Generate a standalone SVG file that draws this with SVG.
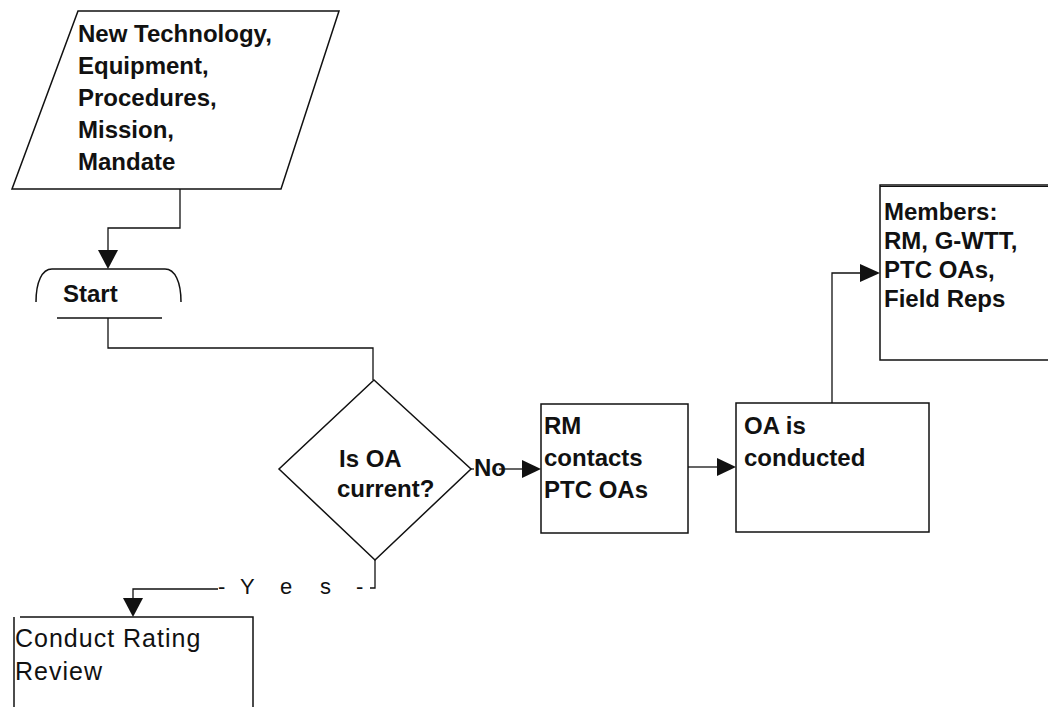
<svg xmlns="http://www.w3.org/2000/svg" width="1048" height="707" viewBox="0 0 1048 707">
  <style>
    .shape { fill: none; stroke: #111; stroke-width: 1.5; }
    .wire { fill: none; stroke: #111; stroke-width: 1.3; }
    .head { fill: #111; stroke: none; }
    .lbl { font-family: "Liberation Sans", Arial, sans-serif; font-size: 24px; font-weight: bold; fill: #111; }
    .plain { font-family: "Liberation Sans", Arial, sans-serif; font-size: 25px; letter-spacing: 1px; fill: #111; }
    .yes { font-family: "Liberation Sans", Arial, sans-serif; font-size: 22px; fill: #111; }
  </style>
  <rect x="0" y="0" width="1048" height="707" fill="#fff"/>

  <g id="connectors">
    <!-- input to start -->
    <polyline class="wire" points="180,189 180,228 108,228 108,252"/>
    <polygon class="head" points="98,250 118,250 108,269"/>
    <!-- start to decision -->
    <polyline class="wire" points="108,318 108,348 373,348 373,380"/>
    <!-- decision: no -->
    <line class="wire" x1="471" y1="469" x2="474" y2="469"/>
    <line class="wire" x1="499" y1="469" x2="524" y2="469"/>
    <polygon class="head" points="522,460 522,478 541,469"/>
    <!-- contacts to conducted -->
    <line class="wire" x1="688" y1="467" x2="719" y2="467"/>
    <polygon class="head" points="717,458 717,476 736,467"/>
    <!-- conducted to members -->
    <polyline class="wire" points="832,403 832,273 862,273"/>
    <polygon class="head" points="860,264 860,282 880,273"/>
    <!-- decision: yes -->
    <polyline class="wire" points="375,560 375,588 370,588"/>
    <polyline class="wire" points="218,589 133,589 133,600"/>
    <polygon class="head" points="123,598 143,598 133,617"/>
  </g>

  <g id="input">
    <polygon class="shape" points="78,11 339,11 281,189 12,189"/>
    <text class="lbl">
      <tspan x="78" y="42">New Technology,</tspan>
      <tspan x="78" y="74">Equipment,</tspan>
      <tspan x="78" y="106">Procedures,</tspan>
      <tspan x="78" y="138">Mission,</tspan>
      <tspan x="78" y="170">Mandate</tspan>
    </text>
  </g>

  <g id="start">
    <path class="shape" d="M36,302 C36,282 42,269 52,269 L165,269 C175,269 181,282 181,302"/>
    <line class="shape" x1="57" y1="318" x2="162" y2="318"/>
    <text class="lbl" x="63" y="302">Start</text>
  </g>

  <g id="decision">
    <polygon class="shape" points="374,380 471,469 375,560 279,469"/>
    <text class="lbl">
      <tspan x="339" y="467">Is OA</tspan>
      <tspan x="337" y="497">current?</tspan>
    </text>
    <text class="lbl" x="474" y="476" font-size="19">No</text>
  </g>

  <g id="contacts">
    <rect class="shape" x="541" y="404" width="147" height="129"/>
    <text class="lbl">
      <tspan x="544" y="434">RM</tspan>
      <tspan x="544" y="466">contacts</tspan>
      <tspan x="544" y="498">PTC OAs</tspan>
    </text>
  </g>

  <g id="conducted">
    <rect class="shape" x="736" y="403" width="193" height="129"/>
    <text class="lbl">
      <tspan x="744" y="434">OA is</tspan>
      <tspan x="744" y="466">conducted</tspan>
    </text>
  </g>

  <g id="members">
    <polyline class="shape" points="1048,185 880,185 880,360 1048,360"/>
    <line x1="880" y1="186.5" x2="1048" y2="186.5" stroke="#111" stroke-width="1.2"/>
    <text class="lbl">
      <tspan x="884" y="220">Members:</tspan>
      <tspan x="884" y="249">RM, G-WTT,</tspan>
      <tspan x="884" y="278">PTC OAs,</tspan>
      <tspan x="884" y="307">Field Reps</tspan>
    </text>
  </g>

  <g id="review">
    <polyline class="shape" points="14,707 14,617"/>
    <polyline class="shape" points="20,617 253,617 253,707"/>
    <text class="plain">
      <tspan x="15" y="647">Conduct Rating</tspan>
      <tspan x="15" y="680">Review</tspan>
    </text>
  </g>

  <g id="yes-label">
    <text class="yes" x="218 229 240 262 280 301 320 342 356" y="594">- Y e s -</text>
  </g>
</svg>
